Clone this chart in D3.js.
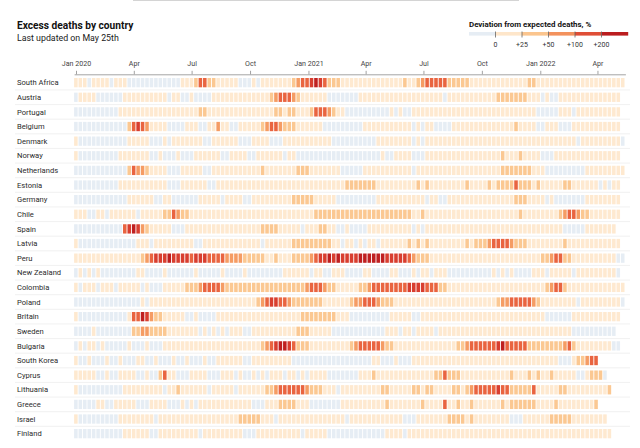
<!DOCTYPE html>
<html><head><meta charset="utf-8">
<script src="https://cdn.jsdelivr.net/npm/d3@7"></script>
<style>
body{margin:0;background:#fff;}
svg{display:block;font-family:Roboto,"Noto Sans",sans-serif;}
</style></head><body>
<svg id="chart" width="640" height="448"></svg>
<script>
// ---- data ----
const countries = ["South Africa","Austria","Portugal","Belgium","Denmark","Norway","Netherlands","Estonia","Germany","Chile","Spain","Latvia","Peru","New Zealand","Colombia","Poland","Britain","Sweden","Bulgaria","South Korea","Cyprus","Lithuania","Greece","Israel","Finland"];
// one digit per week, starting with the week of 29 Dec 2019; digit = colour bin (see binValues)
const weeklyBins = [
"1110111101 1100000000 0000111355 3311111000 1011111113 4556765333 1111111111 1111311345 5555333331 1111111111 1133111111 1111111111 1111",
"0111100000 0111111111 1011001000 0111111111 1111345554 3111111000 0000111111 1111111111 1110111111 1111133333 3311101001 1111111111 111",
"0000000000 1111111111 1111111133 1111111111 1111133133 1113555431 1000000000 0101001111 1111111111 1111111111 1111000001 1101111111 111",
"0000000000 0035654111 1000011100 1141100111 1134554333 1111110000 0000011111 1111110101 1000011111 1111111113 1111001110 0011111111 111",
"1000000000 0011111000 1011111110 0111111000 1111000111 1111111100 0000000011 1111110101 1111111111 1111111111 1111111111 1110111111 1110",
"1000000000 1111111001 0001000111 1110011110 0111111011 0000000000 0000000001 0011110001 1111111111 1111113111 3111100011 1111111111 111",
"0000000000 0035443111 1000111110 0111111111 1131111111 3331111111 0000011111 1111110111 1111111111 1111113333 3331110000 0000011111 1111",
"0000000000 1111111111 1000111111 0011111111 1111111111 1111111111 1333333311 1111111313 1111111131 1113133335 3331311111 3311111101 011",
"0000000000 0011111100 1100000011 1110111100 1111111113 3333111110 0000000011 1111111110 1100111111 1111111113 3311110100 0000011111 111",
"1110011011 1111011111 3354331111 1111111111 1111111111 1111333333 3333333333 3333331131 1111111111 1111111111 3111111113 4554331111 111",
"0000000000 0567643111 1100011111 1111111111 1133331111 1011133110 0100001111 1111110101 1111111111 1111111111 1111111111 0000011111 11",
"1000000000 0000111011 1111111001 1111111111 1101111113 3333333311 0110101101 1111131313 1111111131 3334555543 3311111111 3111111111 111",
"1111111111 1111134566 6766665666 5555444433 3331131113 3334566767 6666777777 6666654333 1111111111 1111111111 1111133455 3311111111 1100",
"0101010000 0000110000 1000000100 0001000010 0000000111 1110110011 1000011000 0110001011 0111000000 0000101010 0001110111 1101111111 110",
"1011101110 1111101000 1111133345 5554333333 3333333333 3345554331 1111334555 5555566665 5533111111 1111111111 1111113455 3111111111 1111",
"0000000000 0000010111 1111111111 1111111111 1345665543 3333331111 1134455543 3311111111 1111111111 1111134455 5554311111 1110111111 1110",
"1000000000 0015576433 1111100100 0011111111 1111111111 1333333331 1100000000 0111110011 1111111111 1111111111 1111110000 0011111111 111",
"0000100000 0003344333 3111111101 0101011100 1111111111 3331111100 0000000000 1110110111 1011111111 1111111111 1111111111 1100000000 00",
"0101101000 0010001000 1111111111 1111111111 1134567765 3331111111 1134555554 3311111111 1111113345 5555567555 5533333333 4531111111 100",
"1001000100 1000110010 0010010001 0011111100 1111111110 0000000000 0000000110 0010001111 1111111111 1111111111 1111111110 00133455",
"1111100100 1111001003 5110001111 0001110100 1010111011 0101111000 0000111311 1111111111 1335333111 1111111131 1131311311 1110013330",
"1000000000 0111111111 0113111111 0111110111 1113345555 5543331110 1111111113 3111113313 3111133134 5555565533 3335111113 3111111111 3",
"0000011001 1111000111 1000101011 1111111111 0001113333 1110000000 1111111111 3111111131 1115113113 1111113133 3333111131 11111113",
"1000000000 1111111101 1111111111 1111111333 3311101111 1111111111 1011111111 1111000111 1111333313 1111111100 0111111333 3311111111",
"0000000000 0111111001 1111111101 1111111100 0111111111 1011111000 0000000000 1111011111 1111111111 1111111111 1111111111 1111111111 1"
];
// representative deviation (%) for each colour bin
const binValues = [-10, 7, 18, 35, 65, 110, 170, 240];
const firstWeekStart = "2019-12-29";
const lastWeekEnd = "2022-05-15";
const tickDates = ["2020-01-01","2020-04-01","2020-07-01","2020-10-01","2021-01-01","2021-04-01","2021-07-01","2021-10-01","2022-01-01","2022-04-01"];
const tickLabels = ["Jan 2020","Apr","Jul","Oct","Jan 2021","Apr","Jul","Oct","Jan 2022","Apr"];
const legendSampleValues = [-10, 10, 37, 72, 145, 250];
const legendLabels = ["0","+25","+50","+100","+200"];

// ---- scales ----
const parseDate = d3.utcParse("%Y-%m-%d");
const svg = d3.select("#chart");
const x = d3.scaleUtc().domain([parseDate(firstWeekStart), parseDate(lastWeekEnd)]).range([74.1, 625.4]);
const y = d3.scaleBand().domain(countries).range([78, 438.3]).paddingInner(0.364).paddingOuter(0);
const warm = d3.scaleLinear().domain([0,25,50,100,200,300])
  .range(["#fff1e0","#fcd6a8","#f9b272","#ec6a43","#cf2b26","#a60f17"]).clamp(true);
const color = v => v < 0 ? "#e6edf4" : warm(v);

// top frame edge (as in the reference screenshot)
svg.append("line").attr("x1",133).attr("x2",519).attr("y1",0.5).attr("y2",0.5)
  .attr("stroke","#d4d4d4").attr("stroke-width",1);

// ---- titles ----
svg.append("text").attr("x",17).attr("y",29.3).text("Excess deaths by country")
  .attr("font-size",10.2).attr("font-weight",700).attr("fill","#121212");
svg.append("text").attr("x",17).attr("y",40.5).text("Last updated on May 25th")
  .attr("font-size",8.8).attr("fill","#1a1a1a");

// ---- legend ----
const lx = d3.scaleLinear().domain([0,6]).range([469,628]);
const lg = svg.append("g");
lg.append("text").attr("x",469).attr("y",26.6).text("Deviation from expected deaths, %")
  .attr("font-size",7.9).attr("font-weight",700).attr("fill","#121212");
lg.selectAll("rect").data(legendSampleValues).join("rect")
  .attr("x",(d,i)=>lx(i)).attr("width",(d,i)=>lx(i+1)-lx(i)+0.2)
  .attr("y",32).attr("height",3.6).attr("fill",d=>color(d));
lg.selectAll("line").data(legendLabels).join("line")
  .attr("x1",(d,i)=>lx(i+1)).attr("x2",(d,i)=>lx(i+1))
  .attr("y1",31.5).attr("y2",37.5).attr("stroke","#666").attr("stroke-width",0.8);
lg.selectAll("text.lab").data(legendLabels).join("text").attr("class","lab")
  .attr("x",(d,i)=>lx(i+1)).attr("y",46.5).attr("text-anchor","middle")
  .attr("font-size",7).attr("fill","#333").text(d=>d);

// ---- axis ----
const axis = d3.axisTop(x)
  .tickValues(tickDates.map(parseDate))
  .tickFormat((d,i)=>tickLabels[i]).tickSize(3.5).tickSizeOuter(0).tickPadding(4.5);
const ag = svg.append("g").attr("transform","translate(0,74.3)").call(axis);
ag.select(".domain").attr("stroke","#9a9a9a").attr("stroke-width",0.9);
ag.selectAll(".tick line").attr("stroke","#8a8a8a").attr("stroke-width",0.8);
ag.selectAll(".tick text").attr("font-size",7.1).attr("fill","#444").attr("font-family","Roboto,'Noto Sans',sans-serif");

// ---- row separators ----
const step = y.step(), bw = y.bandwidth();
svg.append("g").selectAll("line").data(countries.slice(0,-1)).join("line")
  .attr("x1",15).attr("x2",630)
  .attr("y1",d=>y(d)+bw+(step-bw)/2).attr("y2",d=>y(d)+bw+(step-bw)/2)
  .attr("stroke","#e8e8e8").attr("stroke-width",0.6);

// ---- labels ----
svg.append("g").selectAll("text").data(countries).join("text")
  .attr("x",17).attr("y",d=>y(d)+bw/2).attr("dy","0.35em")
  .attr("font-size",7.6).attr("fill","#2b2b2b").text(d=>d);

// ---- cells ----
const start = parseDate(firstWeekStart);
const cells = [];
countries.forEach((c, r) => {
  const codes = weeklyBins[r].replace(/\s/g, "");
  for (let i = 0; i < codes.length; i++) {
    cells.push({country: c, date: d3.utcDay.offset(start, 7 * i), value: binValues[+codes[i]]});
  }
});
svg.append("g").selectAll("rect").data(cells).join("rect")
  .attr("x", d => x(d.date))
  .attr("y", d => y(d.country))
  .attr("width", d => x(d3.utcDay.offset(d.date, 7)) - x(d.date) - 0.9)
  .attr("height", bw)
  .attr("fill", d => color(d.value));
</script>
</body></html>
